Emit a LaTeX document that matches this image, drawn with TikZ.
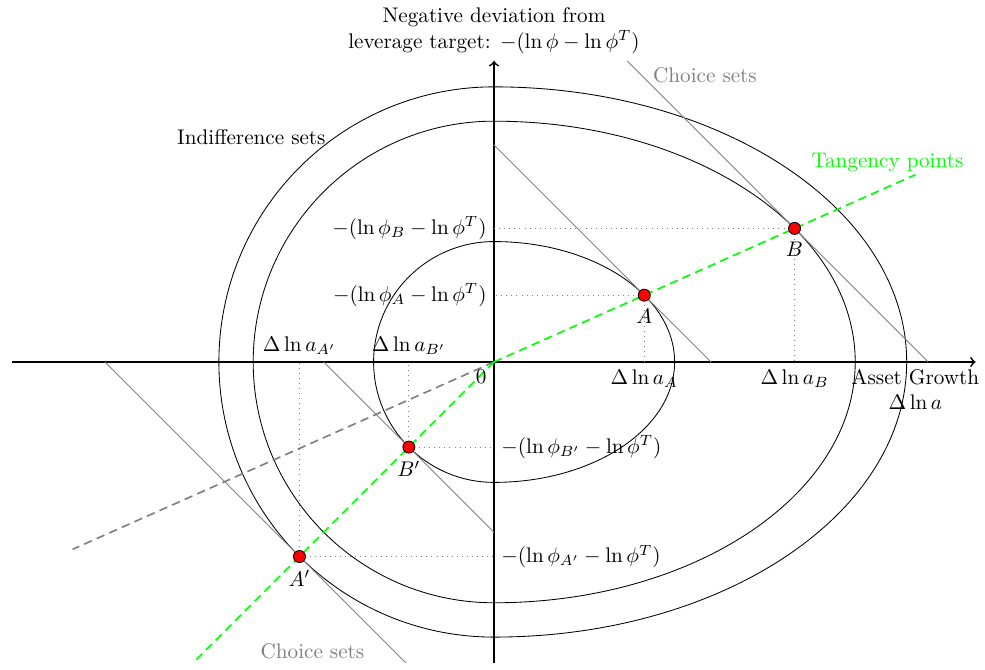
\documentclass[tikz,border=0pt]{standalone}
\usepackage{amsmath}
\begin{document}
\begin{tikzpicture}[
  axis/.style={thick,->},
  indiff/.style={black},
  choice/.style={gray},
  guide/.style={gray,dotted},
  tang/.style={green,thick,dash pattern=on 4pt off 2.5pt},
  refl/.style={gray,thick,dash pattern=on 4pt off 2.5pt},
  pt/.style={circle,fill=red,draw=black,inner sep=0pt,minimum size=0.2cm},
]
\useasboundingbox (-8.206,-5.100) rectangle (8.156,6.013);

% key coordinates
\coordinate (O) at (0,0);
\coordinate (xL) at (-8,0);
\coordinate (xR) at (8,0);
\coordinate (yB) at (0,-5);
\coordinate (yT) at (0,5);
\coordinate (A) at (2.4962,1.1094);
\coordinate (B) at (4.9923,2.2188);
\coordinate (Bp) at (-1.4142,-1.4142);
\coordinate (Ap) at (-3.2315,-3.2315);

% axes
\draw[axis] (xL) -- (xR);
\draw[axis] (yB) -- (yT);

% indifference sets: right half ellipse, left half circle
\draw[indiff] (0,-2) arc[start angle=-90,end angle=90,x radius=3,y radius=2]
  arc[start angle=90,end angle=270,radius=2];
\draw[indiff] (0,-4) arc[start angle=-90,end angle=90,x radius=6,y radius=4]
  arc[start angle=90,end angle=270,radius=4];
\draw[indiff] (0,-4.57) arc[start angle=-90,end angle=90,x radius=6.855,y radius=4.57]
  arc[start angle=90,end angle=270,radius=4.57];

% choice sets
\coordinate (cA1) at (0,3.6056);
\coordinate (cA2) at (3.6056,0);
\coordinate (cB1) at (2.2111,5);
\coordinate (cB2) at (7.2111,0);
\coordinate (cBp1) at (-2.8284,0);
\coordinate (cBp2) at (0,-2.8284);
\coordinate (cAp1) at (-6.4630,0);
\coordinate (cAp2) at (-1.4630,-5);
\draw[choice] (cA1) -- (cA2);
\draw[choice] (cB1) -- (cB2);
\draw[choice] (cBp1) -- (cBp2);
\draw[choice] (cAp1) -- (cAp2);

% guides
\draw[guide] (A) -- (A |- O);
\draw[guide] (A) -- (A -| O);
\draw[guide] (B) -- (B |- O);
\draw[guide] (B) -- (B -| O);
\draw[guide] (Bp) -- (Bp |- O);
\draw[guide] (Bp) -- (Bp -| O);
\draw[guide] (Ap) -- (Ap |- O);
\draw[guide] (Ap) -- (Ap -| O);

% tangency lines
\coordinate (tUR) at (7,3.1111);
\coordinate (tLL) at (-5,-5);
\coordinate (rLL) at (-7,-3.1111);
\draw[refl] (O) -- (rLL);
\draw[tang] (O) -- (tUR);
\draw[tang] (O) -- (tLL);

% points
\node[pt] (pA) at (A) {};
\node[pt] (pB) at (B) {};
\node[pt] (pBp) at (Bp) {};
\node[pt] (pAp) at (Ap) {};
\node[below] (lA) at (pA.south) {$A$};
\node[below] (lB) at (pB.south) {$B$};
\node[below] (lBp) at (pBp.south) {$B'$};
\node[below] (lAp) at (pAp.south) {$A'$};

% axis tick labels
\node[below] (xA) at (A |- O) {$\Delta\ln a_A$};
\node[below] (xB) at (B |- O) {$\Delta\ln a_B$};
\node[above] (xBp) at (Bp |- O) {$\Delta\ln a_{B'}$};
\node[above] (xAp) at (Ap |- O) {$\Delta\ln a_{A'}$};
\node[left] (yA) at (A -| O) {$-(\ln\phi_A-\ln\phi^T)$};
\node[left] (yBl) at (B -| O) {$-(\ln\phi_B-\ln\phi^T)$};
\node[right] (yBp) at (Bp -| O) {$-(\ln\phi_{B'}-\ln\phi^T)$};
\node[right] (yAp) at (Ap -| O) {$-(\ln\phi_{A'}-\ln\phi^T)$};
\node[below left] (zero) at (O) {$0$};

% axis titles
\node[above,align=center] (ytitle) at (yT) {Negative deviation from\\leverage target: $-(\ln\phi-\ln\phi^T)$};
\node[below,align=center] (xtitle) at (7,0) {Asset Growth\\$\Delta\ln a$};

% other labels
\node (indl) at (-4.03,3.74) {Indifference sets};
\node[gray] (ch1) at (3.505,4.77) {Choice sets};
\node[gray] (ch2) at (-3.015,-4.80) {Choice sets};
\node[green] (tg) at (6.536,3.306) {Tangency points};
\end{tikzpicture}
\end{document}
